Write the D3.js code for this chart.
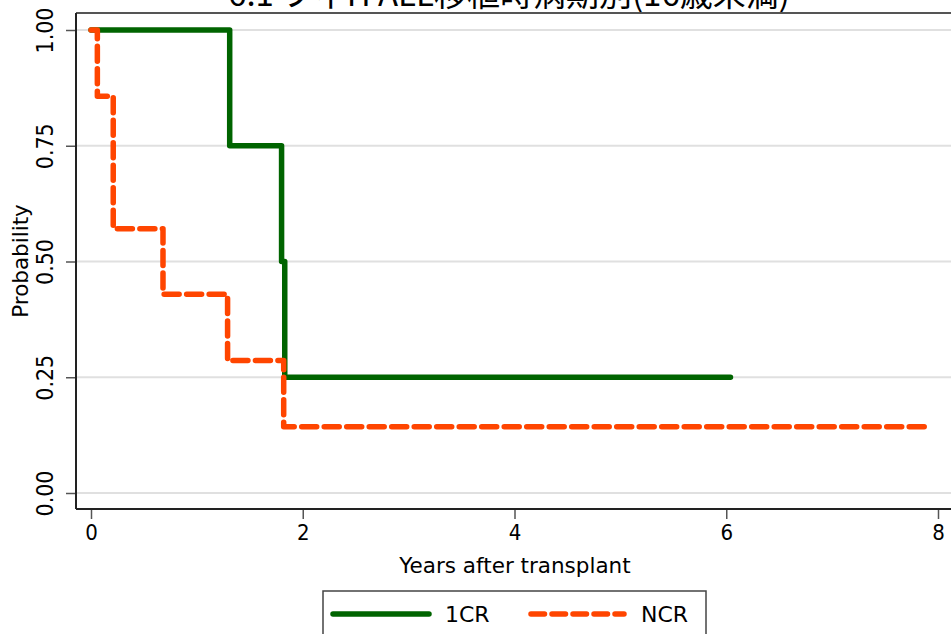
<!DOCTYPE html>
<html><head><meta charset="utf-8">
<script src="https://cdn.jsdelivr.net/npm/d3@7"></script>
<style>body{margin:0;background:#fff;} svg{display:block;font-family:"DejaVu Sans","Noto Sans CJK JP",sans-serif;}</style>
</head><body><div id="chart"></div>
<script>
const title = "6.1 フィH ALL移植時病期別(16歳未満)";
const seriesNames = ["1CR", "NCR"];
const colors = ["#006400", "#ff4500"];
// step data: [time, probability]
const cr1Times = [0, 1.31, 1.80, 1.83, 6.04];
const cr1Values = [1.0, 0.75, 0.50, 0.25, 0.25];
const ncrTimes = [0, 0.06, 0.21, 0.68, 1.29, 1.82, 7.9];
const ncrValues = [1.0, 0.857, 0.571, 0.429, 0.286, 0.143, 0.143];
const xTicks = [0, 2, 4, 6, 8];
const yTicks = [0, 0.25, 0.5, 0.75, 1.0];

(function () {
const W = 951, H = 634;
const svg = d3.select("#chart").append("svg").attr("width", W).attr("height", H);
const x = d3.scaleLinear().domain([0, 8]).range([91, 938]);
const y = d3.scaleLinear().domain([0, 1]).range([493, 30]);
const pLeft = 76, pTop = 13, pBottom = 509, pRight = W;
const tickFont = "'DejaVu Sans Condensed', 'Liberation Sans Narrow', 'DejaVu Sans', sans-serif";

// title (cut off at top, as in the reference)
svg.append("text").attr("x", 509).attr("y", 6).attr("text-anchor", "middle")
  .attr("font-size", 33).attr("fill", "#000")
  .attr("font-family", "'Noto Sans CJK JP', sans-serif").text(title);

// gridlines
svg.append("g").selectAll("line").data(yTicks).join("line")
  .attr("x1", pLeft).attr("x2", pRight).attr("y1", d => y(d)).attr("y2", d => y(d))
  .attr("stroke", "#e0e0e0").attr("stroke-width", 2);

// frame
svg.append("line").attr("x1", pLeft).attr("x2", pRight).attr("y1", pTop).attr("y2", pTop).attr("stroke", "#555").attr("stroke-width", 2);

// y axis
const yAxis = d3.axisLeft(y).tickValues(yTicks).tickFormat(d3.format(".2f")).tickSize(10).tickSizeOuter(0);
const gy = svg.append("g").attr("transform", `translate(${pLeft},0)`).call(yAxis);
gy.select(".domain").remove();
gy.append("line").attr("x1", 0).attr("x2", 0).attr("y1", pTop).attr("y2", pBottom).attr("stroke", "#222").attr("stroke-width", 2);
gy.selectAll(".tick line").attr("stroke", "#555").attr("stroke-width", 1.5);
gy.selectAll(".tick text").attr("font-size", 23).attr("fill", "#000")
  .attr("font-family", tickFont)
  .attr("x", null).attr("dy", "0.35em")
  .attr("text-anchor", "middle")
  .attr("transform", "translate(-31,0) rotate(-90)");

// x axis
const xAxis = d3.axisBottom(x).tickValues(xTicks).tickFormat(d3.format("d")).tickSize(10).tickSizeOuter(0);
const gx = svg.append("g").attr("transform", `translate(0,${pBottom})`).call(xAxis);
gx.select(".domain").remove();
gx.append("line").attr("x1", pLeft).attr("x2", pRight).attr("y1", 0).attr("y2", 0).attr("stroke", "#222").attr("stroke-width", 2);
gx.selectAll(".tick line").attr("stroke", "#555").attr("stroke-width", 1.5);
gx.selectAll(".tick text").attr("font-size", 22).attr("fill", "#000")
  .attr("font-family", tickFont).attr("y", 15);

// axis titles
svg.append("text").attr("x", 515).attr("y", 573).attr("text-anchor", "middle").attr("font-size", 21.5).text("Years after transplant");
svg.append("text").attr("transform", "translate(28,261) rotate(-90)").attr("text-anchor", "middle").attr("font-size", 21.5).text("Probability");

// lines
const line = d3.line().x(d => x(d[0])).y(d => y(d[1])).curve(d3.curveStepAfter);
const cr1 = cr1Times.map((t, i) => [t, cr1Values[i]]);
const ncr = ncrTimes.map((t, i) => [t, ncrValues[i]]);
svg.append("path").datum(cr1).attr("d", line).attr("fill", "none").attr("stroke", colors[0])
  .attr("stroke-width", 5.5).attr("stroke-linecap", "round").attr("stroke-linejoin", "round");
svg.append("path").datum(ncr).attr("d", line).attr("fill", "none").attr("stroke", colors[1])
  .attr("stroke-width", 5.5).attr("stroke-linecap", "round").attr("stroke-linejoin", "round")
  .attr("stroke-dasharray", "15,7.5");

// legend
const lg = svg.append("g");
lg.append("rect").attr("x", 323).attr("y", 591).attr("width", 383).attr("height", 60)
  .attr("fill", "#fff").attr("stroke", "#444").attr("stroke-width", 1.5);
const items = [{x1: 333, x2: 429, tx: 445}, {x1: 531, x2: 624, tx: 641}];
items.forEach((it, i) => {
  const l = lg.append("line").attr("x1", it.x1).attr("x2", it.x2).attr("y1", 614).attr("y2", 614)
    .attr("stroke", colors[i]).attr("stroke-width", 5.5).attr("stroke-linecap", "round");
  if (i === 1) l.attr("stroke-dasharray", "13.5,7.5");
  lg.append("text").attr("x", it.tx).attr("y", 622).attr("font-size", 22).text(seriesNames[i]);
});
})();
</script></body></html>
